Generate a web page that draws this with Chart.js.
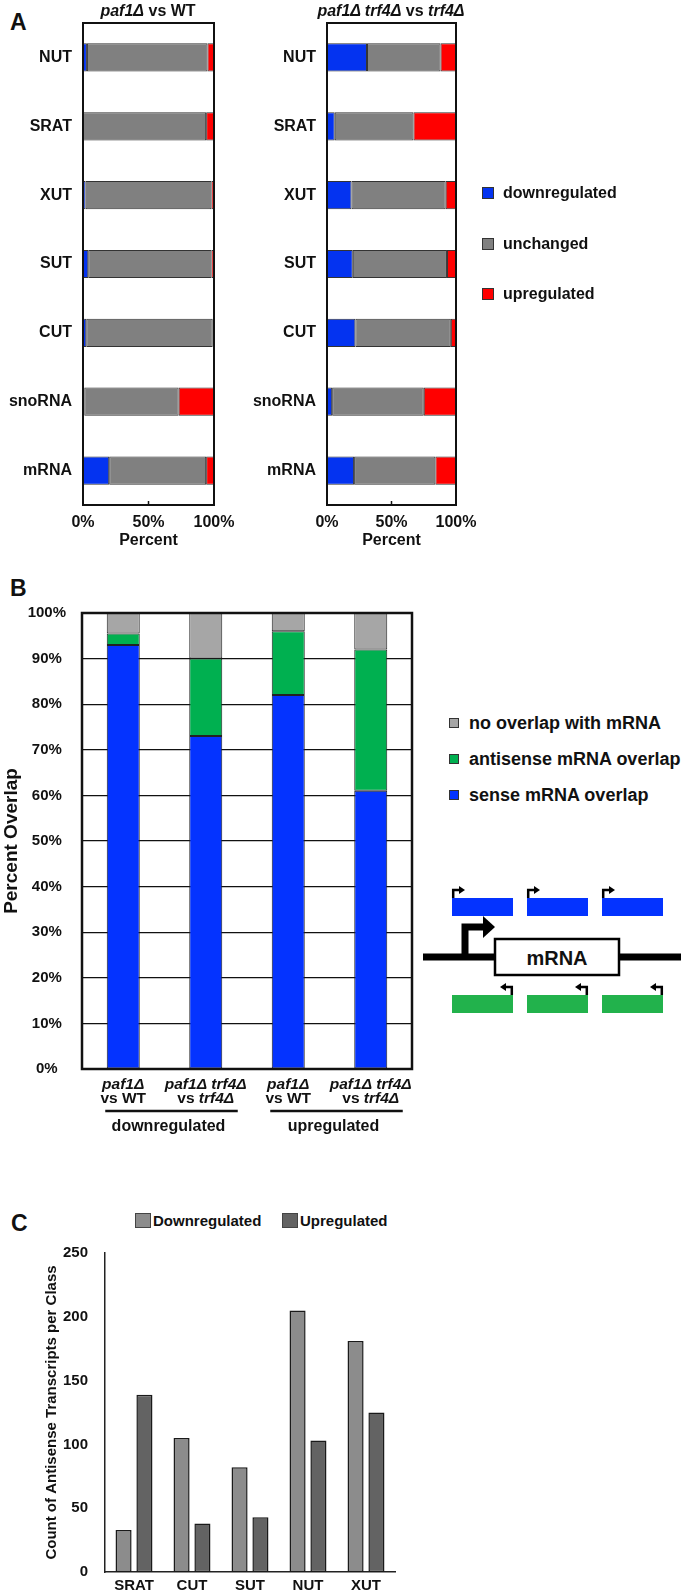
<!DOCTYPE html>
<html>
<head>
<meta charset="utf-8">
<script src="https://cdn.jsdelivr.net/npm/chart.js@4.4.1/dist/chart.umd.min.js"></script>
<style>
html,body{margin:0;padding:0;background:#fff;}
body{width:684px;height:1594px;position:relative;overflow:hidden;font-family:'Liberation Sans',Arial,sans-serif;color:#111;}
.abs{position:absolute;}
.letter{font-weight:bold;font-size:23px;line-height:26px;}
.title{font-weight:bold;font-size:16px;line-height:20px;text-align:center;white-space:nowrap;}
.leg{position:absolute;font-weight:bold;white-space:nowrap;display:flex;align-items:center;}
.sw{display:inline-block;box-sizing:border-box;border:1px solid #333;}
canvas{display:block;}
</style>
</head>
<body>
<script>
// ---------- DATA ----------
// Panel A
const aCategories = ['NUT', 'SRAT', 'XUT', 'SUT', 'CUT', 'snoRNA', 'mRNA'];
const aSeries = ['downregulated', 'unchanged', 'upregulated'];
const aPaf1VsWT_down = [3, 0, 2, 4, 2.5, 1, 20];
const aPaf1VsWT_unchanged = [92, 94, 96, 94, 96.5, 72, 74];
const aPaf1VsWT_up = [5, 6, 2, 2, 1, 27, 6];
const aPaf1Trf4VsTrf4_down = [31, 6, 19, 20, 22, 4, 21];
const aPaf1Trf4VsTrf4_unchanged = [57, 61, 73, 73, 74, 71, 63];
const aPaf1Trf4VsTrf4_up = [12, 33, 8, 7, 4, 25, 16];
const aTickValues = [0, 50, 100];

// Panel B
const bComparisons = ['paf1Δ vs WT', 'paf1Δ trf4Δ vs trf4Δ', 'paf1Δ vs WT', 'paf1Δ trf4Δ vs trf4Δ'];
const bGroups = ['downregulated', 'upregulated'];
const bSeries = ['no overlap with mRNA', 'antisense mRNA overlap', 'sense mRNA overlap'];
const bSense = [93, 73, 82, 61];
const bAntisense = [2.5, 17, 14, 31];
const bNoOverlap = [4.5, 10, 4, 8];

// Panel C
const cClasses = ['SRAT', 'CUT', 'SUT', 'NUT', 'XUT'];
const cSeries = ['Downregulated', 'Upregulated'];
const cDownregulated = [33, 105, 82, 205, 181];
const cUpregulated = [139, 38, 43, 103, 125];

// ---------- STYLE ----------
const FONT = "'Liberation Sans', Arial, sans-serif";
const colA = ['#0433f0', '#808080', '#ff0000'];
const colB = { none: '#a6a6a6', anti: '#00b050', sense: '#0433ff' };
const colC = ['#8c8c8c', '#636363'];

Chart.defaults.font.family = FONT;
Chart.defaults.color = '#111';

function el(tag, cls, style, html) {
  const e = document.createElement(tag);
  if (cls) e.className = cls;
  Object.assign(e.style, style || {});
  if (html !== undefined) e.innerHTML = html;
  document.body.appendChild(e);
  return e;
}
function makeCanvas(left, top, w, h) {
  const d = el('div', 'abs', { left: left + 'px', top: top + 'px', width: w + 'px', height: h + 'px' });
  const c = document.createElement('canvas');
  c.width = w; c.height = h;
  c.style.width = w + 'px'; c.style.height = h + 'px';
  d.appendChild(c);
  return c;
}
function fix(prop, val) {
  return s => { s[prop] = val; s.paddingLeft = 0; s.paddingRight = 0; s.paddingTop = 0; s.paddingBottom = 0; };
}
const boxPlugin = {
  id: 'box',
  afterDatasetsDraw(chart, args, opts) {
    if (!opts || !opts.width) return;
    const { ctx, chartArea: a } = chart;
    ctx.save();
    ctx.strokeStyle = opts.color || '#111';
    ctx.lineWidth = opts.width;
    ctx.strokeRect(a.left, a.top, a.right - a.left, a.bottom - a.top);
    ctx.restore();
  }
};
const innerTicks = {
  id: 'innerTicks',
  afterDraw(chart) {
    const { ctx, chartArea: a } = chart;
    const sx = chart.scales.x;
    ctx.save(); ctx.strokeStyle = '#111'; ctx.lineWidth = 1.5;
    aTickValues.forEach(v => {
      const px = sx.getPixelForValue(v);
      ctx.beginPath(); ctx.moveTo(px, a.bottom); ctx.lineTo(px, a.bottom - 4); ctx.stroke();
    });
    ctx.restore();
  }
};

// ---------- Letters ----------
el('div', 'abs letter', { left: '10px', top: '9px' }, 'A');
el('div', 'abs letter', { left: '10px', top: '575px' }, 'B');
el('div', 'abs letter', { left: '11px', top: '1210px' }, 'C');

// ---------- Panel A ----------
function aChart(left, width, yW, padRight, down, unch, up) {
  const h = 554;
  const c = makeCanvas(left, 0, width, h);
  return new Chart(c, {
    type: 'bar',
    data: {
      labels: aCategories,
      datasets: [down, unch, up].map((d, i) => ({
        label: aSeries[i], data: d, backgroundColor: colA[i],
        borderColor: '#333', borderWidth: 1, borderSkipped: false,
        barPercentage: 0.41, categoryPercentage: 1
      }))
    },
    options: {
      indexAxis: 'y', responsive: false, animation: false,
      layout: { padding: { left: 0, top: 23, right: padRight, bottom: 0 } },
      plugins: { legend: { display: false }, tooltip: { enabled: false }, box: { width: 2, color: '#111' } },
      scales: {
        x: {
          type: 'linear', stacked: true, min: 0, max: 100,
          afterBuildTicks: s => { s.ticks = aTickValues.map(v => ({ value: v })); },
          ticks: { callback: v => v + '%', font: { size: 16, weight: 'bold' }, color: '#111', padding: 8, maxRotation: 0 },
          grid: { display: false, drawTicks: false }, border: { display: false },
          title: { display: true, text: 'Percent', font: { size: 16, weight: 'bold' }, color: '#111', padding: { top: 0, bottom: 4 } },
          afterFit: fix('height', 49)
        },
        y: {
          stacked: true,
          ticks: { font: { size: 16, weight: 'bold' }, color: '#111', padding: 11 },
          grid: { display: false, drawTicks: false }, border: { display: false },
          afterFit: fix('width', yW)
        }
      }
    },
    plugins: [boxPlugin, innerTicks]
  });
}
aChart(0, 240, 83, 26, aPaf1VsWT_down, aPaf1VsWT_unchanged, aPaf1VsWT_up);
aChart(236, 250, 91, 30, aPaf1Trf4VsTrf4_down, aPaf1Trf4VsTrf4_unchanged, aPaf1Trf4VsTrf4_up);

el('div', 'abs title', { left: '48px', top: '1px', width: '200px' }, '<i>paf1Δ</i> vs WT');
el('div', 'abs title', { left: '291px', top: '1px', width: '200px' }, '<i>paf1Δ trf4Δ</i> vs <i>trf4Δ</i>');

// Legend A
const aLegY = [193, 244, 294];
aSeries.forEach((s, i) => {
  const d = el('div', 'leg', { left: '482px', top: (aLegY[i] - 11) + 'px', height: '22px', fontSize: '16px' });
  d.innerHTML = '<span class="sw" style="width:12px;height:12px;background:' + colA[i] + ';margin-right:9px"></span>' + s;
});

// ---------- Panel B ----------
function drawMixed(ctx, text, cx, y) {
  const tokens = text.split(' ');
  const fontN = 'bold 15.5px ' + FONT, fontI = 'italic bold 15.5px ' + FONT;
  ctx.font = fontN;
  const sp = ctx.measureText(' ').width;
  const widths = tokens.map(t => { ctx.font = t.includes('Δ') ? fontI : fontN; return ctx.measureText(t).width; });
  const total = widths.reduce((a, b) => a + b, 0) + sp * (tokens.length - 1);
  let x = cx - total / 2;
  ctx.textAlign = 'left';
  tokens.forEach((t, i) => {
    ctx.font = t.includes('Δ') ? fontI : fontN;
    ctx.fillText(t, x, y);
    x += widths[i] + sp;
  });
}
const bLabelPlugin = {
  id: 'bLabels',
  afterDraw(chart) {
    const ctx = chart.ctx, sx = chart.scales.x, bottom = chart.chartArea.bottom;
    ctx.save(); ctx.fillStyle = '#111'; ctx.textBaseline = 'middle';
    bComparisons.forEach((c, i) => {
      const cx = sx.getPixelForValue(i);
      const parts = c.split(' vs ');
      drawMixed(ctx, parts[0], cx, bottom + 15.5);
      drawMixed(ctx, 'vs ' + parts[1], cx, bottom + 29.5);
    });
    bGroups.forEach((g, gi) => {
      const l = sx.getPixelForValue(gi * 2) - 18, r = sx.getPixelForValue(gi * 2 + 1) + 32;
      ctx.lineWidth = 2.5; ctx.strokeStyle = '#111';
      ctx.beginPath(); ctx.moveTo(l, bottom + 42); ctx.lineTo(r, bottom + 42); ctx.stroke();
      ctx.font = 'bold 16px ' + FONT; ctx.textAlign = 'center';
      ctx.fillText(g, (l + r) / 2 - 3, bottom + 58);
    });
    ctx.restore();
  }
};
(function () {
  const c = makeCanvas(0, 560, 430, 580);
  new Chart(c, {
    type: 'bar',
    data: {
      labels: bComparisons,
      datasets: [
        { label: bSeries[2], data: bSense, backgroundColor: colB.sense },
        { label: bSeries[1], data: bAntisense, backgroundColor: colB.anti },
        { label: bSeries[0], data: bNoOverlap, backgroundColor: colB.none }
      ].map(d => Object.assign(d, { borderColor: '#222', borderWidth: 1, borderSkipped: false, barPercentage: 0.4, categoryPercentage: 1 }))
    },
    options: {
      responsive: false, animation: false,
      layout: { padding: { left: 0, top: 53, right: 18, bottom: 0 } },
      plugins: { legend: { display: false }, tooltip: { enabled: false }, box: { width: 2.5, color: '#111' } },
      scales: {
        x: {
          stacked: true,
          ticks: { display: false }, grid: { display: false, drawTicks: false }, border: { display: false },
          afterFit: fix('height', 71)
        },
        y: {
          stacked: true, min: 0, max: 100,
          ticks: { stepSize: 10, callback: v => v + '%', font: { size: 15, weight: 'bold' }, color: '#111', padding: 16, crossAlign: 'center' },
          grid: { color: '#111', lineWidth: 1.2, drawTicks: false }, border: { display: false },
          title: { display: true, text: 'Percent Overlap', font: { size: 19, weight: 'bold' }, color: '#111', padding: { top: 0, bottom: 0 } },
          afterFit: fix('width', 82)
        }
      }
    },
    plugins: [boxPlugin, bLabelPlugin]
  });
})();

// Legend B
const bLegY = [723, 759, 795];
const bLegCol = [colB.none, colB.anti, colB.sense];
bSeries.forEach((s, i) => {
  const d = el('div', 'leg', { left: '449px', top: (bLegY[i] - 12) + 'px', height: '24px', fontSize: '18px' });
  d.innerHTML = '<span class="sw" style="width:10px;height:10px;background:' + bLegCol[i] + ';margin-right:10px"></span>' + s;
});

// Diagram (schematic)
(function () {
  const ns = 'http://www.w3.org/2000/svg';
  const svg = document.createElementNS(ns, 'svg');
  svg.setAttribute('width', '284'); svg.setAttribute('height', '190');
  svg.style.position = 'absolute'; svg.style.left = '400px'; svg.style.top = '848px';
  const xs = [52, 127, 202];
  let s = '';
  xs.forEach(x => {
    s += '<rect x="' + x + '" y="50" width="61" height="18" fill="' + colB.sense + '"/>';
    s += '<path d="M' + (x + 1.2) + ' 50 V42 H' + (x + 8) + '" fill="none" stroke="#000" stroke-width="2.5"/>';
    s += '<polygon points="' + (x + 7) + ',38 ' + (x + 13) + ',42 ' + (x + 7) + ',46" fill="#000"/>';
    s += '<rect x="' + x + '" y="147" width="61" height="18" fill="#22b24c"/>';
    s += '<path d="M' + (x + 59.8) + ' 147 V139 H' + (x + 53) + '" fill="none" stroke="#000" stroke-width="2.5"/>';
    s += '<polygon points="' + (x + 54) + ',135 ' + (x + 48) + ',139 ' + (x + 54) + ',143" fill="#000"/>';
  });
  s += '<path d="M23 109 H281" stroke="#000" stroke-width="7"/>';
  s += '<path d="M65 112 V79 H85" fill="none" stroke="#000" stroke-width="7"/>';
  s += '<polygon points="83,68 95,79 83,90" fill="#000"/>';
  s += '<rect x="95" y="91" width="124" height="36" fill="#fff" stroke="#000" stroke-width="2.5"/>';
  s += '<text x="157" y="110" text-anchor="middle" dominant-baseline="central" font-family="Liberation Sans, Arial, sans-serif" font-weight="bold" font-size="20" fill="#111">mRNA</text>';
  svg.innerHTML = s;
  document.body.appendChild(svg);
})();

// ---------- Panel C ----------
(function () {
  const c = makeCanvas(0, 1235, 410, 359);
  new Chart(c, {
    type: 'bar',
    data: {
      labels: cClasses,
      datasets: [cDownregulated, cUpregulated].map((d, i) => ({
        label: cSeries[i], data: d, backgroundColor: colC[i], borderColor: '#1a1a1a', borderWidth: 1.5, borderSkipped: false,
        barPercentage: 0.77, categoryPercentage: 0.72
      }))
    },
    options: {
      responsive: false, animation: false,
      layout: { padding: { left: 0, top: 18, right: 15, bottom: 0 } },
      plugins: { legend: { display: false }, tooltip: { enabled: false } },
      scales: {
        x: {
          ticks: { font: { size: 15, weight: 'bold' }, color: '#111', padding: 5 },
          grid: { display: false, drawTicks: false }, border: { display: true, color: '#222', width: 1.5 },
          afterFit: fix('height', 22)
        },
        y: {
          min: 0, max: 250,
          ticks: { stepSize: 50, font: { size: 15, weight: 'bold' }, color: '#111', padding: 17 },
          grid: { display: false, drawTicks: false }, border: { display: true, color: '#222', width: 1.5 },
          title: { display: true, text: 'Count of Antisense Transcripts per Class', font: { size: 15, weight: 'bold' }, color: '#111', padding: { top: 43, bottom: 0 } },
          afterFit: fix('width', 105)
        }
      }
    }
  });
})();

// Legend C
const cLegX = [135, 282];
cSeries.forEach((s, i) => {
  const d = el('div', 'leg', { left: cLegX[i] + 'px', top: '1209px', height: '22px', fontSize: '15px' });
  d.innerHTML = '<span class="sw" style="width:16px;height:15px;background:' + colC[i] + ';margin-right:2px;border-color:#444"></span>' + s;
});
</script>
</body>
</html>
